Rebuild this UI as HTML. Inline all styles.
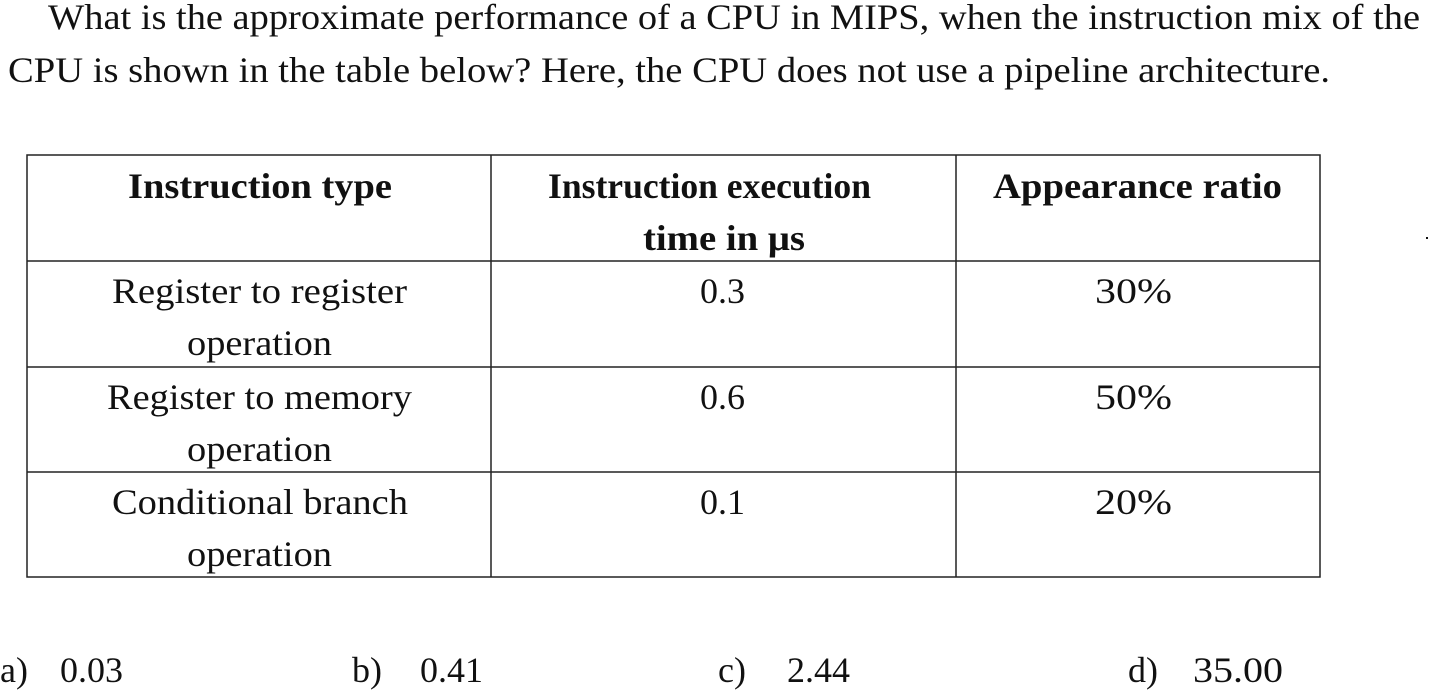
<!DOCTYPE html>
<html><head><meta charset="utf-8"><style>
html,body{margin:0;padding:0;background:#fff;width:1430px;height:691px;overflow:hidden}
svg{display:block}
text{font-family:"Liberation Serif",serif;font-size:36px;fill:#111}
.b{font-weight:bold}
</style></head><body>
<svg width="1430" height="691">
<g>
<text x="48" y="29" textLength="1372" lengthAdjust="spacingAndGlyphs">What is the approximate performance of a CPU in MIPS, when the instruction mix of the</text>
<text x="8" y="82" textLength="1322" lengthAdjust="spacingAndGlyphs">CPU is shown in the table below? Here, the CPU does not use a pipeline architecture.</text>
</g>
<g stroke="#222" stroke-width="1.5" fill="none">
<rect x="27" y="155" width="1293" height="422"/>
<line x1="491" y1="155" x2="491" y2="577"/>
<line x1="956" y1="155" x2="956" y2="577"/>
<line x1="27" y1="261" x2="1320" y2="261"/>
<line x1="27" y1="367" x2="1320" y2="367"/>
<line x1="27" y1="472" x2="1320" y2="472"/>
</g>
<g>
<text class="b" x="128" y="198" textLength="264" lengthAdjust="spacingAndGlyphs">Instruction type</text>
<text class="b" x="548" y="198" textLength="323" lengthAdjust="spacingAndGlyphs">Instruction execution</text>
<text class="b" x="643" y="250" textLength="162" lengthAdjust="spacingAndGlyphs">time in μs</text>
<text class="b" x="993" y="198" textLength="289" lengthAdjust="spacingAndGlyphs">Appearance ratio</text>
</g>
<g>
<text x="112" y="303" textLength="295" lengthAdjust="spacingAndGlyphs">Register to register</text>
<text x="187" y="355" textLength="145" lengthAdjust="spacingAndGlyphs">operation</text>
<text x="700" y="303">0.3</text>
<text x="1095" y="303" textLength="77" lengthAdjust="spacingAndGlyphs">30%</text>
</g>
<g>
<text x="107" y="409" textLength="305" lengthAdjust="spacingAndGlyphs">Register to memory</text>
<text x="187" y="461" textLength="145" lengthAdjust="spacingAndGlyphs">operation</text>
<text x="700" y="409">0.6</text>
<text x="1095" y="409" textLength="77" lengthAdjust="spacingAndGlyphs">50%</text>
</g>
<g>
<text x="112" y="514" textLength="296" lengthAdjust="spacingAndGlyphs">Conditional branch</text>
<text x="187" y="566" textLength="145" lengthAdjust="spacingAndGlyphs">operation</text>
<text x="700" y="514">0.1</text>
<text x="1095" y="514" textLength="77" lengthAdjust="spacingAndGlyphs">20%</text>
</g>
<rect x="1426" y="237" width="2" height="2" fill="#111"/>
<g>
<text x="0" y="682">a)</text>
<text x="60" y="682">0.03</text>
<text x="352" y="682">b)</text>
<text x="420" y="682">0.41</text>
<text x="718" y="682">c)</text>
<text x="787" y="682">2.44</text>
<text x="1128" y="682">d)</text>
<text x="1193" y="682" textLength="90" lengthAdjust="spacingAndGlyphs">35.00</text>
</g>
</svg>
</body></html>
